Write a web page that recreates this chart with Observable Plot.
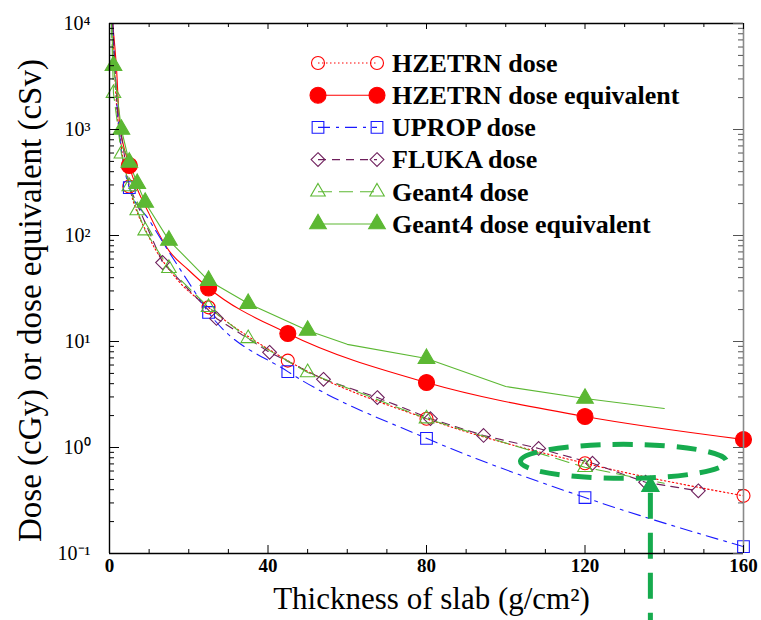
<!DOCTYPE html>
<html><head><meta charset="utf-8">
<script src="https://cdn.jsdelivr.net/npm/d3@7"></script>
<script src="https://cdn.jsdelivr.net/npm/@observablehq/plot@0.6"></script>
<style>body{margin:0;background:#fff} #chart{width:761px;height:620px}</style>
</head><body><div id="chart"></div>
<script>
// ---- data ----
const hzDoseX = [0.8, 1.5, 3, 5, 10, 16.7, 25, 45, 80, 120, 160];
const hzDoseY = [10000, 2500, 680, 290, 96, 40, 21, 6.6, 1.87, 0.71, 0.35];
const hzDoseMarks = [5, 25, 45, 80, 120, 160];

const hzEqX = [0.8, 1.8, 2.5, 5, 10, 15, 20, 25, 45, 80, 120, 160];
const hzEqY = [10000, 3600, 1200, 457, 160, 72, 47, 32, 11.9, 4.1, 1.96, 1.19];
const hzEqMarks = [5, 25, 45, 80, 120, 160];

const upropX = [0.8, 2, 5, 10, 15, 20, 25, 45, 80, 120, 160];
const upropY = [10000, 1500, 283, 140, 70, 36, 18.8, 5.2, 1.22, 0.337, 0.116];
const upropMarks = [5, 25, 45, 80, 120, 160];

const flukaX = [0.8, 2, 5, 13.4, 27, 40.4, 54, 67.6, 81, 94.4, 108.3, 121.9, 135.3, 148.6];
const flukaY = [10000, 1500, 290, 55.6, 16.5, 7.9, 4.4, 2.96, 1.87, 1.30, 0.98, 0.71, 0.47, 0.39];
const flukaMarks = [13.4, 27, 40.4, 54, 67.6, 81, 94.4, 108.3, 121.9, 135.3, 148.6];

const g4DoseX = [0.5, 1, 3, 5, 7, 9, 15, 25, 35, 50, 80, 120, 140];
const g4DoseY = [10000, 2200, 590, 290, 172, 111, 49, 21, 10.7, 5.1, 1.87, 0.65, 0.46];
const g4DoseMarks = [1, 3, 5, 7, 9, 15, 25, 35, 50, 80, 120];

const g4EqX = [0.5, 1, 3, 5, 7, 9, 15, 25, 35, 50, 60, 80, 100, 120, 140];
const g4EqY = [10000, 4000, 1000, 490, 309, 205, 90, 37.6, 22.8, 12.7, 9.4, 6.9, 3.76, 2.9, 2.33];
const g4EqMarks = [1, 3, 5, 7, 9, 15, 25, 35, 50, 80, 120];

// annotation (ellipse around the curves, arrow marker and drop line)
const annEllipseX = [129.7], annEllipseY = [0.74];
const annArrowX = [136.5], annArrowY = [0.43];
const annDropY1 = [0.37], annDropY2 = [0.022];

// axes
const xTickLabels = [0, 40, 80, 120, 160];
const xMinorTicks = [10, 20, 30, 50, 60, 70, 90, 100, 110, 130, 140, 150];
const yTickValues = [0.1, 1, 10, 100, 1000, 10000];
const yTickLabels = ["10⁻¹", "10⁰", "10¹", "10²", "10³", "10⁴"];
const minorMult = [2, 3, 4, 5, 6, 7, 8, 9];
const yMinorTicks = yTickValues.slice(0, -1).flatMap(d => minorMult.map(m => d * m));

const xLabel = "Thickness of slab (g/cm²)";
const yLabel = "Dose (cGy) or dose equivalent (cSv)";

// ---- series table ----
const RED = "#ff0000", BLUE = "#1a1aff", PURPLE = "#6e1f5c", GREEN = "#5cb833", ANN = "#16ab4e";
const series = [
  {name: "HZETRN dose", xs: hzDoseX, ys: hzDoseY, marks: hzDoseMarks, color: RED, dash: "1.5,2.5", sym: "circle", fill: "none", r: 6.5, sw: 1.1, curve: "monotone-x"},
  {name: "HZETRN dose equivalent", xs: hzEqX, ys: hzEqY, marks: hzEqMarks, color: RED, dash: null, sym: "circle", fill: RED, r: 8, sw: 1.1, curve: "monotone-x"},
  {name: "UPROP dose", xs: upropX, ys: upropY, marks: upropMarks, color: BLUE, dash: "12,6,3,6", sym: "square", fill: "none", r: 6.6, sw: 1.1, curve: "monotone-x"},
  {name: "FLUKA dose", xs: flukaX, ys: flukaY, marks: flukaMarks, color: PURPLE, dash: "8,6", sym: "diamond2", fill: "none", r: 6.2, sw: 1.1, curve: "linear"},
  {name: "Geant4 dose", xs: g4DoseX, ys: g4DoseY, marks: g4DoseMarks, color: GREEN, dash: "14,7", sym: "triangle", fill: "none", r: 5.4, sw: 1.1, curve: "linear"},
  {name: "Geant4 dose equivalent", xs: g4EqX, ys: g4EqY, marks: g4EqMarks, color: GREEN, dash: null, sym: "triangle", fill: GREEN, r: 6.2, sw: 1.1, curve: "linear"}
];

const W = 761, H = 620, ML = 109, MR = 18, MT = 23, MB = 67;
const FW = W - ML - MR, FH = H - MT - MB;
const FONT = "'Liberation Serif', 'Times New Roman', serif";

const ellipseSymbol = {
  draw(ctx) {
    const rx = 103, ry = 17, k = 0.5523;
    ctx.moveTo(-rx, 0);
    ctx.bezierCurveTo(-rx, -ry * k, -rx * k, -ry, 0, -ry);
    ctx.bezierCurveTo(rx * k, -ry, rx, -ry * k, rx, 0);
    ctx.bezierCurveTo(rx, ry * k, rx * k, ry, 0, ry);
    ctx.bezierCurveTo(-rx * k, ry, -rx, ry * k, -rx, 0);
    ctx.closePath();
  }
};

const marks = [];
for (const s of series) {
  const rows = s.xs.map((x, i) => ({x, y: s.ys[i]}));
  marks.push(Plot.line(rows, {x: "x", y: "y", stroke: s.color, strokeWidth: s.sw, strokeDasharray: s.dash || undefined, curve: s.curve, clip: true}));
}
for (const s of series) {
  const rows = s.xs.map((x, i) => ({x, y: s.ys[i]})).filter(d => s.marks.includes(d.x));
  marks.push(Plot.dot(rows, {x: "x", y: "y", symbol: s.sym, r: s.r, stroke: s.color, strokeWidth: 1.1, fill: s.fill}));
}
// annotation
marks.push(Plot.dot(annEllipseX.map((x, i) => ({x, y: annEllipseY[i]})), {x: "x", y: "y", symbol: ellipseSymbol, r: 1, stroke: ANN, strokeWidth: 5, strokeDasharray: "20,12", fill: "none"}));
marks.push(Plot.ruleX(annArrowX.map((x, i) => ({x, y1: annDropY1[i], y2: annDropY2[i]})), {x: "x", y1: "y1", y2: "y2", stroke: ANN, strokeWidth: 5, strokeDasharray: "26,14"}));
marks.push(Plot.dot(annArrowX.map((x, i) => ({x, y: annArrowY[i]})), {x: "x", y: "y", symbol: "triangle", r: 6.2, fill: ANN, stroke: ANN}));

// frame
marks.push(Plot.ruleY([0.1, 10000], {stroke: "#000", strokeWidth: 1.4}));
marks.push(Plot.ruleX([0], {stroke: "#000", strokeWidth: 1.4}));
marks.push(Plot.ruleX([160], {stroke: "#8a8a8a", strokeWidth: 1.6}));
// inward ticks
marks.push(Plot.tickX(xTickLabels, {x: d => d, insetTop: FH - 8, stroke: "#000"}));
marks.push(Plot.tickX(xMinorTicks, {x: d => d, insetTop: FH - 4, stroke: "#000"}));
marks.push(Plot.tickX(xTickLabels, {x: d => d, insetBottom: FH - 6, stroke: "#000"}));
marks.push(Plot.tickX(xMinorTicks, {x: d => d, insetBottom: FH - 4, stroke: "#000"}));
marks.push(Plot.tickY(yTickValues, {y: d => d, insetRight: FW - 10, stroke: "#000"}));
marks.push(Plot.tickY(yMinorTicks, {y: d => d, insetRight: FW - 5, stroke: "#000"}));
marks.push(Plot.tickY(yTickValues, {y: d => d, insetLeft: FW - 10, stroke: "#555"}));
marks.push(Plot.tickY(yMinorTicks, {y: d => d, insetLeft: FW - 5, stroke: "#555"}));
// axes labels
marks.push(Plot.axisX({ticks: xTickLabels, tickSize: 0, tickPadding: 5, fontSize: 19, fontWeight: "bold", label: null, tickFormat: d => String(d)}));
marks.push(Plot.axisY({ticks: yTickValues, tickSize: 0, tickPadding: 19, fontSize: 20, label: null, tickFormat: d => yTickLabels[yTickValues.indexOf(d)]}));
marks.push(Plot.text([xLabel], {text: d => d, frameAnchor: "bottom", textAnchor: "middle", dy: 55, dx: 5, fontSize: 31, fill: "#000"}));
marks.push(Plot.text([yLabel], {text: d => d, frameAnchor: "left", textAnchor: "middle", rotate: -90, dx: -79, dy: 12, fontSize: 33, fill: "#000"}));

const plot = Plot.plot({
  width: W, height: H,
  marginLeft: ML, marginRight: MR, marginTop: MT, marginBottom: MB,
  style: {fontFamily: FONT, background: "#fff", color: "#000", overflow: "visible"},
  x: {type: "linear", domain: [0, 160]},
  y: {type: "log", domain: [0.1, 10000]},
  marks
});
document.getElementById("chart").appendChild(plot);

// ---- legend inside the plot ----
const svg = d3.select(plot);
const lg = svg.append("g").attr("transform", "translate(318,63)");
const symMap = {circle: d3.symbolCircle, square: d3.symbolSquare, diamond2: d3.symbolDiamond2, triangle: d3.symbolTriangle};
series.forEach((s, i) => {
  const g = lg.append("g").attr("transform", `translate(0,${i * 32.2})`);
  g.append("line").attr("x1", 0).attr("x2", 59).attr("y1", 0).attr("y2", 0)
    .attr("stroke", s.color).attr("stroke-width", s.sw).attr("stroke-dasharray", s.dash);
  const path = d3.symbol(symMap[s.sym], Math.PI * s.r * s.r)();
  for (const cx of [0, 59]) {
    g.append("path").attr("d", path).attr("transform", `translate(${cx},0)`)
      .attr("fill", s.fill).attr("stroke", s.color).attr("stroke-width", 1.1);
  }
  g.append("text").attr("x", 74).attr("y", 0).attr("dy", "0.34em")
    .attr("text-anchor", "start")
    .attr("font-family", FONT).attr("font-weight", "bold").attr("font-size", 26)
    .attr("fill", "#000").text(s.name);
});
</script></body></html>
